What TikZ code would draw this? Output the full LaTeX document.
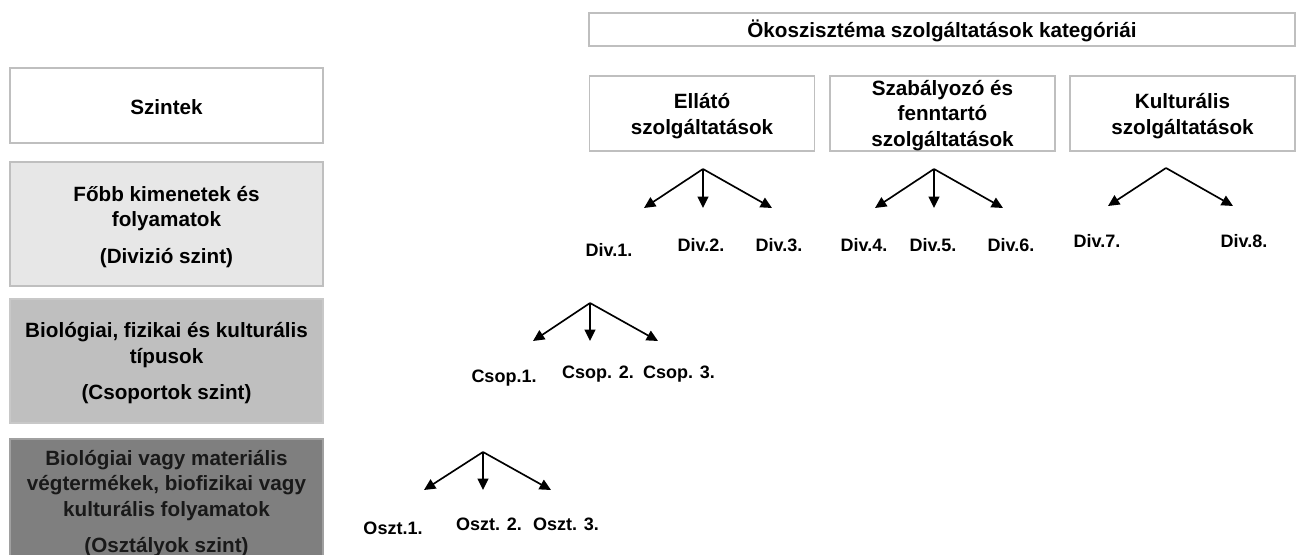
\documentclass[tikz,border=0pt]{standalone}
\usepackage{fontspec}
\setmainfont{Liberation Sans}
\usetikzlibrary{arrows.meta}
\definecolor{boxline}{HTML}{BFBFBF}
\definecolor{lvltwo}{HTML}{E7E7E7}
\definecolor{lvlthree}{HTML}{BFBFBF}
\definecolor{lvlthreeline}{HTML}{C8C8C8}
\definecolor{lvlfour}{HTML}{7F7F7F}
\definecolor{lvlfourline}{HTML}{A0A0A0}
\newcommand\bigtxt{\fontsize{15.5}{19.1}\selectfont\bfseries}
\newcommand\lbltxt{\fontsize{13.5}{16}\selectfont\bfseries}
\begin{document}
\begin{tikzpicture}[x=0.75pt,y=-0.75pt,
  box/.style={draw=boxline, line width=1.2pt, inner sep=0pt, fill=white},
  txt/.style={align=center, inner sep=0pt, font=\bigtxt},
  lvlbox/.style={box, minimum width=234.75pt, minimum height=93pt},
  catbox/.style={box, minimum width=169pt, minimum height=56.25pt},
  lbl/.style={font=\lbltxt, inner sep=0pt},
  arr/.style={-{Triangle[length=8.5pt,width=8pt]}, line width=1.25pt}]
\clip (0,0) rectangle (1298,555);
\path[use as bounding box] (0,0) rectangle (1298,555);

% Left level boxes
\node[box, minimum width=234.75pt, minimum height=56.25pt] (szintek) at (166.5,105.5) {};
\node[txt] (szintek-t) at (166.5,107.5) {Szintek};
\node[lvlbox, fill=lvltwo] (divbox) at (166.5,224) {};
\node[txt] (divbox-t) at (166.5,227) {Főbb kimenetek és\\folyamatok\\[8.3pt](Divizió szint)};
\node[lvlbox, fill=lvlthree, draw=lvlthreeline] (csopbox) at (166.5,361) {};
\node[txt] (csopbox-t) at (166.5,363.5) {Biológiai, fizikai és kulturális\\típusok\\[8.3pt](Csoportok szint)};
\node[lvlbox, fill=lvlfour, draw=lvlfourline] (osztbox) at (166.5,501) {};
\node[txt, text=black!90] (osztbox-t) at (166.5,503.5) {Biológiai vagy materiális\\végtermékek, biofizikai vagy\\kulturális folyamatok\\[8.3pt](Osztályok szint)};

% Top category boxes
\node[box, minimum width=529.5pt, minimum height=24.75pt] (kat) at (942,29.5) {};
\node[txt] (kat-t) at (942,30.5) {Ökoszisztéma szolgáltatások kategóriái};
\node[catbox] (ellato) at (702,113.5) {};
\node[txt] (ellato-t) at (702,116) {Ellátó\\szolgáltatások};
\node[catbox] (szab) at (942.5,113.5) {};
\node[txt] (szab-t) at (942.5,115.5) {Szabályozó és\\fenntartó\\szolgáltatások};
\node[catbox] (kult) at (1182.5,113.5) {};
\node[txt] (kult-t) at (1182.5,116) {Kulturális\\szolgáltatások};

% Division arrows
\coordinate (a1) at (703,169);
\coordinate (t1) at (644,208);
\coordinate (t2) at (703,208);
\coordinate (t3) at (772,208);
\coordinate (a2) at (934,169);
\coordinate (t4) at (875,208);
\coordinate (t5) at (934,208);
\coordinate (t6) at (1003,208);
\coordinate (a3) at (1166,168);
\coordinate (t7) at (1108,206);
\coordinate (t8) at (1233,206);
\draw[arr] (a1) -- (t1);
\draw[arr] (a1) -- (t2);
\draw[arr] (a1) -- (t3);
\draw[arr] (a2) -- (t4);
\draw[arr] (a2) -- (t5);
\draw[arr] (a2) -- (t6);
\draw[arr] (a3) -- (t7);
\draw[arr] (a3) -- (t8);

\node[lbl] (d1) at (609,250) {Div.1.};
\node[lbl] (d2) at (701,245) {Div.2.};
\node[lbl] (d3) at (779,245) {Div.3.};
\node[lbl] (d4) at (864,245) {Div.4.};
\node[lbl] (d5) at (933,245) {Div.5.};
\node[lbl] (d6) at (1011,245) {Div.6.};
\node[lbl] (d7) at (1097,241) {Div.7.};
\node[lbl] (d8) at (1244,241) {Div.8.};

% Group arrows
\coordinate (ca) at (590,303);
\coordinate (c1) at (533,341);
\coordinate (c2) at (590,341);
\coordinate (c3) at (658,341);
\draw[arr] (ca) -- (c1);
\draw[arr] (ca) -- (c2);
\draw[arr] (ca) -- (c3);
\node[lbl] (cs1) at (504,378) {Csop.1.};
\node[lbl] (cs2) at (598,374) {Csop. 2.};
\node[lbl] (cs3) at (679,374) {Csop. 3.};

% Class arrows
\coordinate (oa) at (483,452);
\coordinate (o1) at (424,490);
\coordinate (o2) at (483,490);
\coordinate (o3) at (551,490);
\draw[arr] (oa) -- (o1);
\draw[arr] (oa) -- (o2);
\draw[arr] (oa) -- (o3);
\node[lbl] (os1) at (393,528) {Oszt.1.};
\node[lbl] (os2) at (489,524) {Oszt. 2.};
\node[lbl] (os3) at (566,524) {Oszt. 3.};
\end{tikzpicture}
\end{document}
